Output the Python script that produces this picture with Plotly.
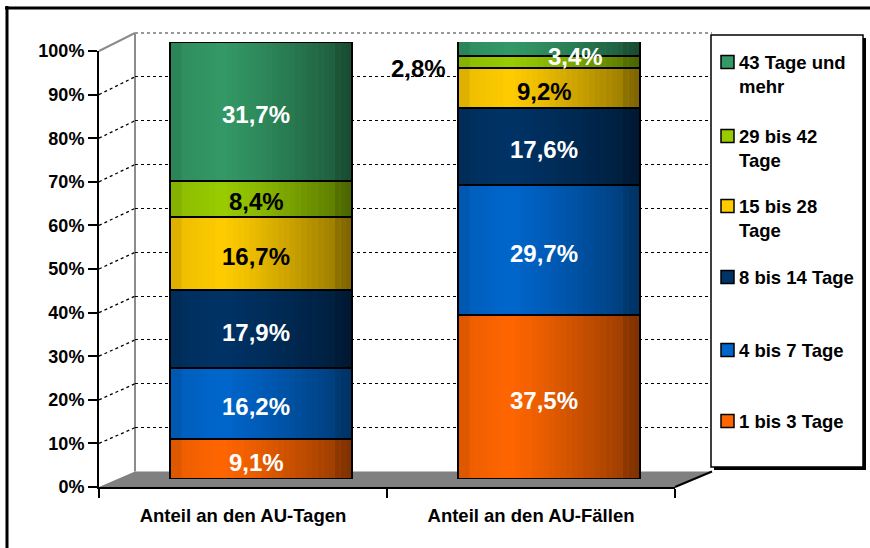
import plotly.graph_objects as go

# ---------------- data ----------------
categories = ["Anteil an den AU-Tagen", "Anteil an den AU-Fällen"]
series_names = ["1 bis 3 Tage", "4 bis 7 Tage", "8 bis 14 Tage",
                "15 bis 28 Tage", "29 bis 42 Tage", "43 Tage und mehr"]
legend_labels = ["1 bis 3 Tage", "4 bis 7 Tage", "8 bis 14 Tage",
                 "15 bis 28<br>Tage", "29 bis 42<br>Tage", "43 Tage und<br>mehr"]
au_tage = [9.1, 16.2, 17.9, 16.7, 8.4, 31.7]
au_faelle = [37.5, 29.7, 17.6, 9.2, 2.8, 3.4]
y_ticks = [0, 10, 20, 30, 40, 50, 60, 70, 80, 90, 100]
y_tick_labels = [f"{v}%" for v in y_ticks]

# ---------------- style ----------------
colors = ["#FF6600", "#0066CC", "#003366", "#FFCC00", "#99CC00", "#339966"]
label_colors = ["white", "white", "white", "black", "black", "white"]
FONT = "Liberation Sans, Arial, sans-serif"
W, H = 870, 548


def px(x):
    return x / W


def py(y):
    return 1 - y / H


# plane geometry (pixels): front, middle (bars), back wall
front_x = (99, 675)
front_y = (487, 51)
mid_x = (117, 693)
mid_y = (479, 42)
back_x = (135, 712)
back_y = (471.5, 33)

BAR_W = 0.63

fig = go.Figure()

# invisible anchors for the category axes
fig.add_trace(go.Scatter(x=categories, y=[None, None], mode="markers",
                         showlegend=False, hoverinfo="skip", xaxis="x", yaxis="y"))
fig.add_trace(go.Scatter(x=categories, y=[None, None], mode="markers",
                         showlegend=False, hoverinfo="skip", xaxis="x2", yaxis="y2"))

values_by_series = [[au_tage[i], au_faelle[i]] for i in range(len(series_names))]
for i, name in enumerate(series_names):
    fig.add_trace(go.Bar(
        x=categories, y=values_by_series[i], name=name,
        marker=dict(color=colors[i], line=dict(color="black", width=2)),
        width=BAR_W, showlegend=False, xaxis="x3", yaxis="y3",
        hovertemplate="%{x}<br>" + name + ": %{y:.1f}%<extra></extra>"))

shapes = []

# frame lines (top and left)
shapes.append(dict(type="line", xref="paper", yref="paper", x0=px(5), x1=1.0,
                   y0=py(8), y1=py(8), line=dict(color="black", width=3)))
shapes.append(dict(type="line", xref="paper", yref="paper", x0=px(7), x1=px(7),
                   y0=py(6), y1=0, line=dict(color="black", width=3)))

# floor
shapes.append(dict(type="path", xref="paper", yref="paper", layer="below",
                   path=f"M {px(front_x[0])} {py(front_y[0])} L {px(front_x[1])} {py(front_y[0])} "
                        f"L {px(back_x[1])} {py(back_y[0])} L {px(back_x[0])} {py(back_y[0])} Z",
                   fillcolor="#808080", line=dict(width=0)))
shapes.append(dict(type="line", xref="paper", yref="paper",
                   x0=px(front_x[1]), y0=py(front_y[0]), x1=px(back_x[1]), y1=py(back_y[0]),
                   line=dict(color="black", width=2)))
# back wall edges
shapes.append(dict(type="line", xref="paper", yref="paper", layer="below",
                   x0=px(back_x[0]), y0=py(back_y[0]), x1=px(back_x[0]), y1=py(back_y[1]),
                   line=dict(color="#8c8c8c", width=2)))
shapes.append(dict(type="line", xref="paper", yref="paper", layer="below",
                   x0=px(back_x[0]), y0=py(back_y[1]), x1=px(back_x[1]), y1=py(back_y[1]),
                   line=dict(color="#999999", width=2, dash="dot")))
shapes.append(dict(type="line", xref="paper", yref="paper", layer="below",
                   x0=px(front_x[0]), y0=py(front_y[1]), x1=px(back_x[0]), y1=py(back_y[1]),
                   line=dict(color="#8c8c8c", width=2)))

# dotted connectors from front ticks to the back wall gridlines
for v in y_ticks[1:-1]:
    yf = front_y[0] + (front_y[1] - front_y[0]) * v / 100
    yb = back_y[0] + (back_y[1] - back_y[0]) * v / 100
    shapes.append(dict(type="line", xref="paper", yref="paper", layer="below",
                       x0=px(front_x[0]), y0=py(yf), x1=px(back_x[0]), y1=py(yb),
                       line=dict(color="black", width=1.3, dash="dot")))

# cylinder shading overlays on the bars
N = 32
for ci, cat in enumerate(categories):
    total = sum(values_by_series[i][ci] for i in range(len(series_names)))
    for k in range(N):
        t = (k + 0.5) / N
        if t < 0.06:
            a = 0.13
        elif t < 0.28:
            a = 0.07 * (0.28 - t) / 0.22
        else:
            a = 0.45 * ((t - 0.28) / 0.72) ** 1.2
        if t > 0.92:
            a += 0.06
        x0 = ci - BAR_W / 2 + BAR_W * k / N
        x1 = ci - BAR_W / 2 + BAR_W * (k + 1) / N
        shapes.append(dict(type="rect", xref="x3", yref="y3", layer="above",
                           x0=x0, x1=x1, y0=0, y1=total,
                           fillcolor=f"rgba(0,0,0,{a:.3f})", line=dict(width=0)))

# legend box with shadow
LX0, LY0, LX1, LY1 = 711, 35, 863, 467
shapes.append(dict(type="rect", xref="paper", yref="paper",
                   x0=px(LX0 + 3), x1=px(LX1 + 3), y0=py(LY1 + 3), y1=py(LY0 + 3),
                   fillcolor="black", line=dict(width=0)))
shapes.append(dict(type="rect", xref="paper", yref="paper",
                   x0=px(LX0), x1=px(LX1), y0=py(LY1), y1=py(LY0),
                   fillcolor="white", line=dict(color="black", width=1.5)))

annotations = []
legend_y = [421, 350, 277, 206, 136, 62]
for i in range(len(series_names)):
    yc = legend_y[i]
    shapes.append(dict(type="rect", xref="paper", yref="paper",
                       x0=px(721), x1=px(734), y0=py(yc + 6.5), y1=py(yc - 6.5),
                       fillcolor=colors[i], line=dict(color="black", width=1.5)))
    annotations.append(dict(xref="paper", yref="paper", x=px(737), y=py(yc - 12),
                            xanchor="left", yanchor="top", align="left",
                            text=f"<b>{legend_labels[i]}</b>", showarrow=False,
                            font=dict(family=FONT, size=18.5, color="black")))

# data labels
offsets = {(1, 4): (-131, -6), (1, 5): (26, -8)}
for ci, cat in enumerate(categories):
    cum = 0
    for i in range(len(series_names)):
        v = values_by_series[i][ci]
        center = cum + v / 2
        cum += v
        dx, dy = offsets.get((ci, i), (-5, -3))
        col = label_colors[i]
        if (ci, i) == (1, 4):
            col = "black"
        annotations.append(dict(xref="x3", yref="y3", x=cat, y=center,
                                xshift=dx, yshift=dy, showarrow=False,
                                text="<b>" + f"{v:.1f}".replace(".", ",") + "%</b>",
                                font=dict(family=FONT, size=24, color=col)))

axis_common = dict(showgrid=False, zeroline=False, automargin=False)
fig.update_layout(
    width=W, height=H, autosize=False,
    margin=dict(l=0, r=0, t=0, b=0, pad=0),
    paper_bgcolor="white", plot_bgcolor="rgba(0,0,0,0)",
    barmode="stack", showlegend=False,
    font=dict(family=FONT, color="black"),
    xaxis=dict(domain=[px(front_x[0]), px(front_x[1])], type="category",
               range=[-0.5, 1.5], anchor="y", showline=True, linecolor="black",
               linewidth=2, ticks="outside", tickson="boundaries", ticklen=9,
               tickwidth=1.5, tickcolor="black", ticklabelstandoff=11,
               tickmode="array", tickvals=categories,
               ticktext=[f"<b>{c}</b>" for c in categories],
               tickfont=dict(family=FONT, size=18.5, color="black"),
               fixedrange=True, **axis_common),
    yaxis=dict(domain=[py(front_y[0]), py(front_y[1])], range=[0, 100],
               anchor="x", showline=True, linecolor="black", linewidth=2,
               ticks="outside", ticklen=9, tickwidth=1.5, tickcolor="black",
               tickmode="array", tickvals=y_ticks,
               ticktext=[f"<b>{t}</b>" for t in y_tick_labels],
               tickfont=dict(family=FONT, size=18, color="black"),
               fixedrange=True, **axis_common),
    xaxis2=dict(domain=[px(back_x[0]), px(back_x[1])], type="category",
                range=[-0.5, 1.5], anchor="y2", visible=False, fixedrange=True),
    yaxis2=dict(domain=[py(back_y[0]), py(back_y[1])], range=[0, 100],
                anchor="x2", showgrid=True, gridcolor="black", gridwidth=1.3,
                griddash="dot", tickvals=y_ticks[1:-1], showticklabels=False,
                zeroline=False, showline=False, ticks="", fixedrange=True),
    xaxis3=dict(domain=[px(mid_x[0]), px(mid_x[1])], type="category",
                range=[-0.5, 1.5], anchor="y3", visible=False, fixedrange=True),
    yaxis3=dict(domain=[py(mid_y[0]), py(mid_y[1])], range=[0, 100],
                anchor="x3", visible=False, fixedrange=True),
    shapes=shapes, annotations=annotations,
)

fig.write_html("out.html", config={"responsive": False, "displayModeBar": False},
               post_script="document.body.style.margin='0';document.body.style.overflow='hidden';")
